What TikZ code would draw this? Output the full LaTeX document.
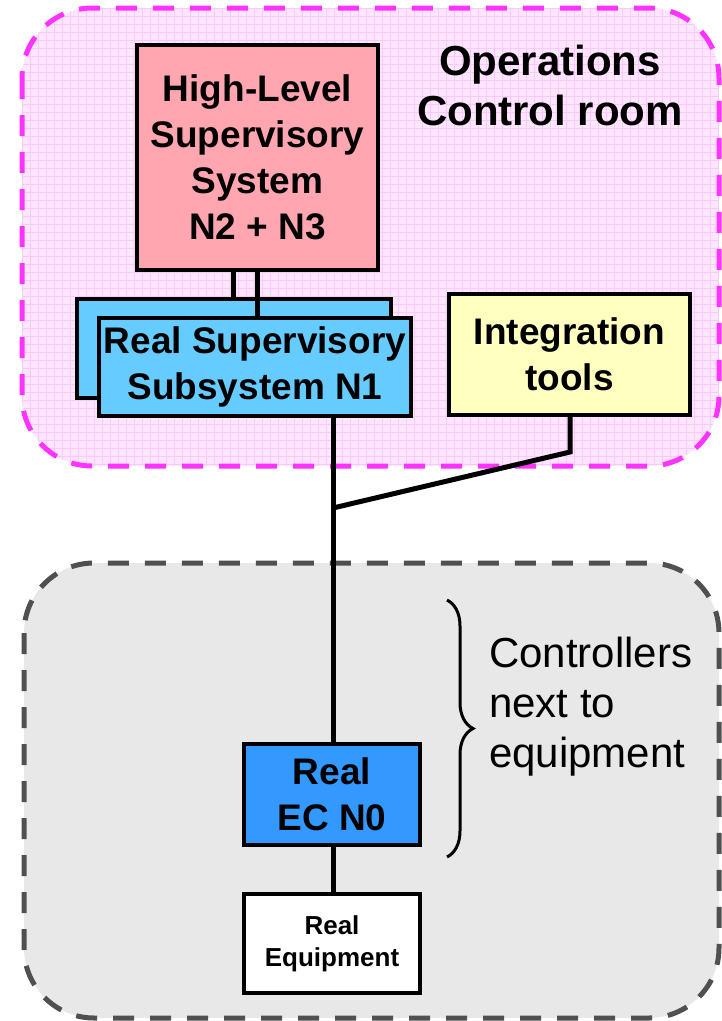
\documentclass[tikz,border=0pt]{standalone}
\usepackage{fontspec}
\setmainfont{Liberation Sans}
\usetikzlibrary{decorations.pathreplacing}
\definecolor{roomfill}{HTML}{FFE5FF}
\definecolor{roomgrid}{HTML}{F8CAF8}
\definecolor{roomedge}{HTML}{FF33FF}
\definecolor{fieldfill}{HTML}{E8E8E8}
\definecolor{fieldedge}{HTML}{505050}
\definecolor{hlsfill}{HTML}{FFA6B0}
\definecolor{rssfill}{HTML}{66CCFF}
\definecolor{intfill}{HTML}{FFFFC0}
\definecolor{ecfill}{HTML}{3399FF}
\begin{document}
\begin{tikzpicture}[x=1pt,y=-1pt,
  box/.style={draw=black,line width=4pt,inner sep=0pt,align=center,
    font=\bfseries\fontsize{37}{46}\selectfont},
  wire/.style={line width=5pt},
  zone/.style={line width=5pt,dash pattern=on 21pt off 16pt,rounded corners=70pt}]
\useasboundingbox (0,0) rectangle (722,1021);

% field level zone
\filldraw[zone,fill=fieldfill,draw=fieldedge] (24,563) rectangle (719,1018);

% control room zone with its grid paper
\begin{scope}
  \clip[rounded corners=70pt] (22,8) rectangle (719,466);
  \fill[roomfill] (22,8) rectangle (719,466);
  \foreach \x in {22,30,...,719} \draw[roomgrid,line width=0.6pt] (\x,8) -- (\x,466);
  \foreach \y in {8,16,...,466} \draw[roomgrid,line width=0.6pt] (22,\y) -- (719,\y);
\end{scope}
\draw[zone,draw=roomedge] (22,8) rectangle (719,466);

\node[align=center,inner sep=0pt,font=\bfseries\fontsize{42}{50}\selectfont]
  (room) at (550,85) {Operations\\Control room};

% tap positions
\coordinate (tapA) at (233,0);
\coordinate (tapB) at (257,0);
\coordinate (bus) at (333,0);
\coordinate (bend) at (570,452);
\coordinate (join) at (333,508);

\node[box,fill=hlsfill,minimum width=241pt,minimum height=225pt]
  (hls) at (257.5,157.5) {High-Level\\Supervisory\\System\\N2 + N3};
\node[box,fill=rssfill,minimum width=314pt,minimum height=99pt]
  (rssback) at (234,348.5) {};
\draw[wire] (hls.south -| tapA) -- (rssback.north -| tapA);
\node[box,fill=rssfill,minimum width=312pt,minimum height=98pt]
  (rss) at (255,367) {Real Supervisory\\Subsystem N1};
\draw[wire] (hls.south -| tapB) -- (rss.north -| tapB);
\node[box,fill=intfill,minimum width=241pt,minimum height=121pt]
  (int) at (569.5,354.5) {Integration\\tools};

\node[box,fill=ecfill,minimum width=176pt,minimum height=101pt]
  (ec) at (332,794.5) {Real\\EC N0};
\node[box,fill=white,minimum width=176pt,minimum height=99pt,
  font=\bfseries\fontsize{26}{32}\selectfont]
  (eq) at (332,943.5) {Real\\Equipment};

% connectors
\draw[wire] (rss.south -| bus) -- (ec.north -| bus);
\draw[wire] (int.south -| bend) -- (bend) -- (join);
\draw[wire] (ec.south -| bus) -- (eq.north -| bus);

% brace and its note
\coordinate (bt) at (447,600);
\coordinate (bb) at (447,857);
\draw[line width=3pt,decorate,decoration={brace,amplitude=26pt}] (bt) -- (bb);
\node[anchor=west,align=left,inner sep=0pt,font=\fontsize{42}{50}\selectfont]
  (note) at (489,707) {Controllers\\next to\\equipment};
\end{tikzpicture}
\end{document}
